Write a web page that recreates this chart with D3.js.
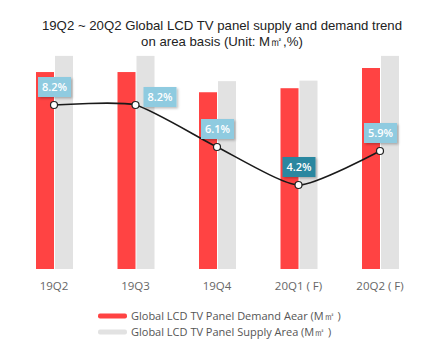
<!DOCTYPE html>
<html><head><meta charset="utf-8">
<script src="https://cdn.jsdelivr.net/npm/d3@7"></script>
<style>body{margin:0;background:#fff}svg{display:block}</style>
</head><body>
<script>
const categories = ["19Q2","19Q3","19Q4","20Q1 ( F)","20Q2 ( F)"];
const demand = [39.0, 39.0, 35.0, 35.8, 39.8];
const supply = [42.2, 42.2, 37.2, 37.3, 42.2];
const gapPct = [8.2, 8.2, 6.1, 4.2, 5.9];
const pctLabels = ["8.2%","8.2%","6.1%","4.2%","5.9%"];
const titleLines = ["19Q2 ~ 20Q2 Global LCD TV panel supply and demand trend","on area basis (Unit: M㎡,%)"];
const legendLabels = ["Global LCD TV Panel Demand Aear (M㎡ )","Global LCD TV Panel Supply Area (M㎡ )"];

const W=444,H=364;
const svg=d3.select("body").append("svg").attr("width",W).attr("height",H);
svg.append("rect").attr("width",W).attr("height",H).attr("fill","#fff");

const x=d3.scalePoint().domain(categories).range([54,380]);
const y=d3.scaleLinear().domain([0,45]).range([269,269-45*5.05]);
const yp=d3.scaleLinear().domain([0,10]).range([269,69]);
const bw=18;

svg.selectAll(".d").data(demand).join("rect")
 .attr("x",(d,i)=>x(categories[i])-bw).attr("width",bw)
 .attr("y",d=>y(d)).attr("height",d=>y(0)-y(d)).attr("fill","#ff4343");
svg.selectAll(".s").data(supply).join("rect")
 .attr("x",(d,i)=>x(categories[i])+1).attr("width",bw)
 .attr("y",d=>y(d)).attr("height",d=>y(0)-y(d)).attr("fill","#e2e2e2");

// title
svg.selectAll(".t").data(titleLines).join("text")
 .attr("x",W/2).attr("y",(d,i)=>30+i*16).attr("text-anchor","middle")
 .attr("font-family","Liberation Sans, Arial, sans-serif").attr("font-size",13.2)
 .attr("fill","#222").text(d=>d);

// x labels
svg.selectAll(".xl").data(categories).join("text")
 .attr("x",d=>x(d)).attr("y",290).attr("text-anchor","middle")
 .attr("font-family","Open Sans, sans-serif").attr("font-size",11.5)
 .attr("fill","#666").text(d=>d);

// line
const pts=gapPct.map((v,i)=>[x(categories[i]),yp(v)]);
svg.append("path").attr("d",d3.line().curve(d3.curveCardinal.tension(0.4))(pts))
 .attr("fill","none").attr("stroke","#1a1a1a").attr("stroke-width",1.6);

// labels
const defs=svg.append("defs");
const f=defs.append("filter").attr("id","sh").attr("x","-20%").attr("y","-20%").attr("width","150%").attr("height","150%");
f.append("feDropShadow").attr("dx",1.5).attr("dy",1.5).attr("stdDeviation",1).attr("flood-color","#000").attr("flood-opacity",0.25);
const lg=svg.selectAll(".lb").data(pctLabels).join("g")
 .attr("transform",(d,i)=>{const dx=i===1?24:0, dy=i===1?2:-8;return `translate(${pts[i][0]+dx},${pts[i][1]+dy})`;});
lg.append("rect").attr("x",-16).attr("y",-20).attr("width",33).attr("height",20)
 .attr("fill",(d,i)=>i===3?"#2b87a0":"#8fcbe0").attr("filter","url(#sh)");
lg.append("text").attr("x",0.5).attr("y",-6).attr("text-anchor","middle")
 .attr("font-family","Open Sans, sans-serif").attr("font-size",11).attr("font-weight",600)
 .attr("fill","#fff").text(d=>d);

svg.selectAll(".pt").data(pts).join("circle")
 .attr("cx",d=>d[0]).attr("cy",d=>d[1]).attr("r",3.5)
 .attr("fill","#fff").attr("stroke","#222").attr("stroke-width",1.2);

// legend
const lc=["#ff4343","#e2e2e2"];
const leg=svg.selectAll(".lg").data(legendLabels).join("g")
 .attr("transform",(d,i)=>`translate(98,${316+i*16})`);
leg.append("rect").attr("x",0).attr("y",-2.5).attr("width",29).attr("height",5).attr("rx",2).attr("fill",(d,i)=>lc[i]);
leg.append("text").attr("x",33).attr("y",4).attr("font-family","Open Sans, sans-serif")
 .attr("font-size",11).attr("fill","#555").text(d=>d);
</script>
</body></html>
